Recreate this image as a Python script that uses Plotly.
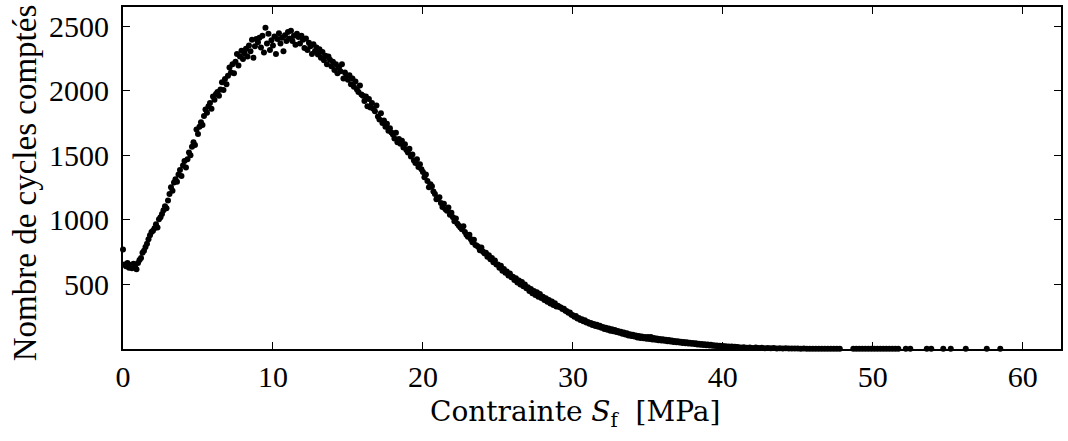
import plotly.graph_objects as go

# Histogram bins (bin start / width in MPa) for the main, regularly sampled part
BIN_START = 0.0
BIN_WIDTH = 0.1

# Counted cycles per bin (0.0 .. 40.9 MPa, 10 bins per row)
counts_main = [
    770, 655, 640, 665, 630, 650, 625, 660, 640, 618,
    665, 690, 705, 745, 760, 790, 815, 850, 880, 905,
    915, 935, 965, 940, 1005, 1020, 1045, 1075, 1105, 1090,
    1150, 1200, 1252, 1225, 1290, 1314, 1295, 1352, 1385, 1340,
    1420, 1455, 1405, 1470, 1522, 1500, 1565, 1600, 1580, 1700,
    1665, 1720, 1755, 1735, 1805, 1855, 1830, 1880, 1905, 1860,
    1955, 1930, 1975, 1990, 1960, 2010, 2065, 2005, 2090, 2050,
    2115, 2180, 2140, 2205, 2135, 2225, 2285, 2195, 2264, 2310,
    2245, 2290, 2325, 2265, 2350, 2305, 2395, 2255, 2345, 2400,
    2375, 2410, 2335, 2425, 2295, 2488, 2365, 2440, 2315, 2390,
    2350, 2420, 2285, 2400, 2445, 2365, 2410, 2305, 2430, 2385,
    2455, 2405, 2465, 2385, 2425, 2355, 2440, 2415, 2365, 2425,
    2395, 2330, 2405, 2315, 2372, 2345, 2285, 2360, 2305, 2335,
    2280, 2320, 2255, 2300, 2235, 2270, 2205, 2265, 2240, 2190,
    2225, 2160, 2205, 2135, 2180, 2150, 2205, 2095, 2140, 2115,
    2085, 2120, 2050, 2095, 2030, 2071, 2010, 1990, 2040, 1970,
    1960, 1920, 1955, 1880, 1935, 1870, 1905, 1860, 1840, 1885,
    1800, 1777, 1825, 1750, 1770, 1720, 1745, 1690, 1710, 1677,
    1660, 1630, 1675, 1600, 1625, 1590, 1612, 1560, 1585, 1540,
    1522, 1550, 1490, 1505, 1460, 1440, 1470, 1410, 1430, 1391,
    1370, 1330, 1352, 1300, 1252, 1275, 1260, 1220, 1200, 1159,
    1165, 1175, 1130, 1100, 1125, 1082, 1070, 1095, 1040, 1055,
    1020, 989, 1010, 970, 955, 940, 927, 950, 905, 885,
    870, 885, 850, 827, 845, 805, 800, 790, 765, 785,
    755, 740, 745, 715, 725, 695, 705, 672, 685, 655,
    655, 630, 645, 605, 620, 590, 600, 570, 585, 555,
    560, 535, 548, 515, 530, 500, 518, 485, 500, 470,
    478, 450, 465, 432, 450, 418, 440, 405, 425, 395,
    405, 380, 392, 365, 380, 352, 368, 340, 355, 330,
    335, 325, 322, 310, 312, 296, 292, 280, 282, 265,
    262, 250, 255, 236, 240, 225, 230, 215, 222, 205,
    210, 195, 202, 186, 193, 178, 188, 172, 180, 165,
    170, 155, 165, 150, 158, 142, 152, 138, 147, 132,
    140, 125, 133, 118, 128, 112, 122, 104, 115, 100,
    110, 96, 104, 90, 100, 86, 96, 84, 93, 80,
    92, 78, 93, 74, 86, 72, 82, 68, 78, 66,
    76, 64, 72, 60, 69, 58, 66, 55, 62, 52,
    60, 50, 57, 47, 54, 45, 52, 42, 49, 40,
    47, 38, 44, 35, 41, 33, 39, 31, 36, 29,
    34, 27, 32, 25, 30, 23, 28, 21, 26, 20,
    24, 18, 22, 16, 20, 15, 19, 14, 17, 13,
]

# Sparse tail (stress in MPa, counts)
stress_tail = [
    41.0, 41.2, 41.4, 41.6, 41.8, 42.0, 42.2, 42.4, 42.6, 42.8,
    43.0, 43.2, 43.4, 43.6, 43.8, 44.0, 44.2, 44.4, 44.6, 44.8,
    45.0, 45.2, 45.4, 45.6, 45.8, 46.0, 46.2, 46.4, 46.6, 46.8,
    47.0, 47.2, 47.4, 47.6, 47.8, 48.7, 48.9, 49.1, 49.3, 49.5,
    49.7, 49.9, 50.1, 50.3, 50.5, 50.7, 50.9, 51.1, 51.3, 51.5,
    51.7, 52.2, 52.5, 53.6, 53.9, 54.7, 55.2, 56.2, 57.6, 58.5,
]
counts_tail = [
    15, 11, 14, 10, 12, 8, 11, 7, 9, 6,
    8, 5, 7, 4, 6, 4, 5, 3, 4, 3,
    3, 2, 3, 2, 2, 1, 2, 1, 2, 1,
    1, 1, 1, 1, 1, 1, 1, 1, 1, 1,
    1, 1, 1, 1, 1, 1, 1, 1, 1, 1,
    1, 1, 1, 1, 1, 1, 1, 1, 1, 1,
]

x_ticks = [0, 10, 20, 30, 40, 50, 60]
y_ticks = [500, 1000, 1500, 2000, 2500]

stress_main = [round(BIN_START + i * BIN_WIDTH, 1) for i in range(len(counts_main))]
stress = stress_main + stress_tail
counts = counts_main + counts_tail

FONT = "Liberation Serif, Times New Roman, serif"
FONT_LABEL = "DejaVu Serif, serif"

fig = go.Figure()
fig.add_trace(go.Scatter(
    x=stress, y=counts, mode="markers",
    marker=dict(color="black", size=6, line=dict(width=0)),
    cliponaxis=False, showlegend=False,
))

axis_common = dict(
    showline=True, linecolor="black", linewidth=2, mirror="ticks",
    ticks="inside", ticklen=7, tickwidth=1, tickcolor="black",
    showgrid=False, zeroline=False,
    tickfont=dict(family=FONT, size=30, color="black"),
)

fig.update_xaxes(range=[0, 62.55], tickvals=x_ticks, ticklabelstandoff=0, **axis_common)
fig.update_yaxes(range=[0, 2648], tickvals=y_ticks, ticklabelstandoff=6, **axis_common)

W, H = 1068, 441
L, R, T, B = 123, 5, 7, 92
pw, ph = W - L - R, H - T - B

fig.add_annotation(
    text="Contrainte <i>S</i><sub>f</sub>\u00a0\u00a0[MPa]",
    xref="paper", yref="paper",
    x=(576 - L) / pw, y=(H - B - 413) / ph,
    xanchor="center", yanchor="middle", showarrow=False,
    font=dict(family=FONT_LABEL, size=28, color="black"),
)
fig.add_annotation(
    text="Nombre de cycles comptés",
    xref="paper", yref="paper",
    x=(25 - L) / pw, y=(H - B - 183) / ph,
    xanchor="center", yanchor="middle", showarrow=False, textangle=-90,
    font=dict(family=FONT, size=33, color="black"),
)

fig.update_layout(
    width=W, height=H,
    margin=dict(l=L, r=R, t=T, b=B),
    paper_bgcolor="white", plot_bgcolor="white",
    font=dict(family=FONT, color="black"),
)

fig.write_html(
    "out.html",
    config={"displayModeBar": False},
    post_script="document.body.style.margin='0';document.body.style.overflow='hidden';",
)
